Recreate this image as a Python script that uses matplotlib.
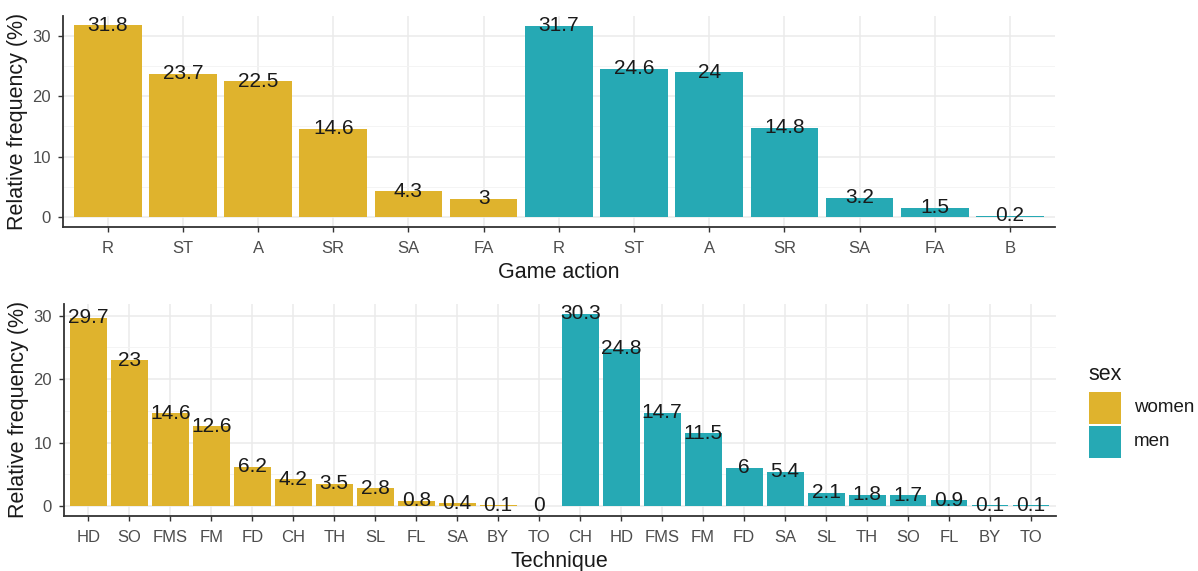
import matplotlib
matplotlib.use("Agg")
import matplotlib.pyplot as plt
from matplotlib.patches import Rectangle

plt.rcParams['font.family'] = ['Liberation Sans', 'DejaVu Sans']

# ---- data ----
action_labels = ["R", "ST", "A", "SR", "SA", "FA", "R", "ST", "A", "SR", "SA", "FA", "B"]
action_values = [31.8, 23.7, 22.5, 14.6, 4.3, 3, 31.7, 24.6, 24, 14.8, 3.2, 1.5, 0.2]
action_sex = ["women"] * 6 + ["men"] * 7

tech_labels = ["HD", "SO", "FMS", "FM", "FD", "CH", "TH", "SL", "FL", "SA", "BY", "TO",
               "CH", "HD", "FMS", "FM", "FD", "SA", "SL", "TH", "SO", "FL", "BY", "TO"]
tech_values = [29.7, 23, 14.6, 12.6, 6.2, 4.2, 3.5, 2.8, 0.8, 0.4, 0.1, 0,
               30.3, 24.8, 14.7, 11.5, 6, 5.4, 2.1, 1.8, 1.7, 0.9, 0.1, 0.1]
tech_sex = ["women"] * 12 + ["men"] * 12

sex_levels = ["women", "men"]
colors = {"women": "#DFB32D", "men": "#26A9B4"}

W, H = 1198, 571
fig = plt.figure(figsize=(W / 100, H / 100), dpi=100)


def px_axes(left, top, right, bottom):
    return fig.add_axes([left / W, 1 - bottom / H, (right - left) / W, (bottom - top) / H])


def draw(ax, labels, values, sexes, xlabel):
    n = len(values)
    xs = list(range(n))
    ax.bar(xs, values, width=0.9, color=[colors[s] for s in sexes], zorder=2)
    for x, v in zip(xs, values):
        ax.text(x, v, f"{v:g}", ha="center", va="center", fontsize=15,
                color="#1a1a1a", zorder=3)
    ymax = max(values)
    ax.set_xlim(-0.6, n - 0.4)
    ax.set_ylim(-0.05 * ymax, ymax * 1.05)
    ax.set_xticks(xs)
    ax.set_xticklabels(labels)
    ax.set_yticks([0, 10, 20, 30])
    ax.set_yticks([5, 15, 25], minor=True)
    ax.set_xticks([], minor=True)
    ax.grid(True, which="major", color="#EBEBEB", linewidth=1.1, zorder=0)
    ax.grid(True, which="minor", axis="y", color="#F3F3F3", linewidth=0.6, zorder=0)
    ax.set_axisbelow(True)
    for s in ["top", "right"]:
        ax.spines[s].set_visible(False)
    for s in ["left", "bottom"]:
        ax.spines[s].set_color("#333333")
        ax.spines[s].set_linewidth(1.3)
    ax.tick_params(axis="both", which="major", length=3.5, width=1.0, color="#333333",
                   labelcolor="#4D4D4D", labelsize=12, pad=5)
    ax.tick_params(axis="x", which="major", pad=7)
    ax.tick_params(axis="y", which="minor", length=0)
    ax.set_ylabel("Relative frequency (%)", fontsize=15.5, color="#1a1a1a", labelpad=3)
    ax.set_xlabel(xlabel, fontsize=15.5, color="#1a1a1a", labelpad=4)


ax1 = px_axes(62.6, 15.5, 1055, 226.6)
draw(ax1, action_labels, action_values, action_sex, "Game action")

ax2 = px_axes(63.7, 304.2, 1055.6, 515.6)
draw(ax2, tech_labels, tech_values, tech_sex, "Technique")

# legend (drawn manually in figure pixel coords)
fig.text(1088 / W, 1 - 374 / H, "sex", fontsize=15.5, color="#1a1a1a", ha="left", va="center")
key_tops = [392, 426]
for lvl, kt in zip(sex_levels, key_tops):
    fig.patches.append(Rectangle((1089 / W, 1 - (kt + 32) / H), 32 / W, 32 / H,
                                 transform=fig.transFigure, facecolor=colors[lvl],
                                 edgecolor="none"))
    fig.text(1134 / W, 1 - (kt + 16) / H, lvl, fontsize=13.5, color="#1a1a1a",
             ha="left", va="center")

fig.savefig("out.png", dpi=100, facecolor="white")
